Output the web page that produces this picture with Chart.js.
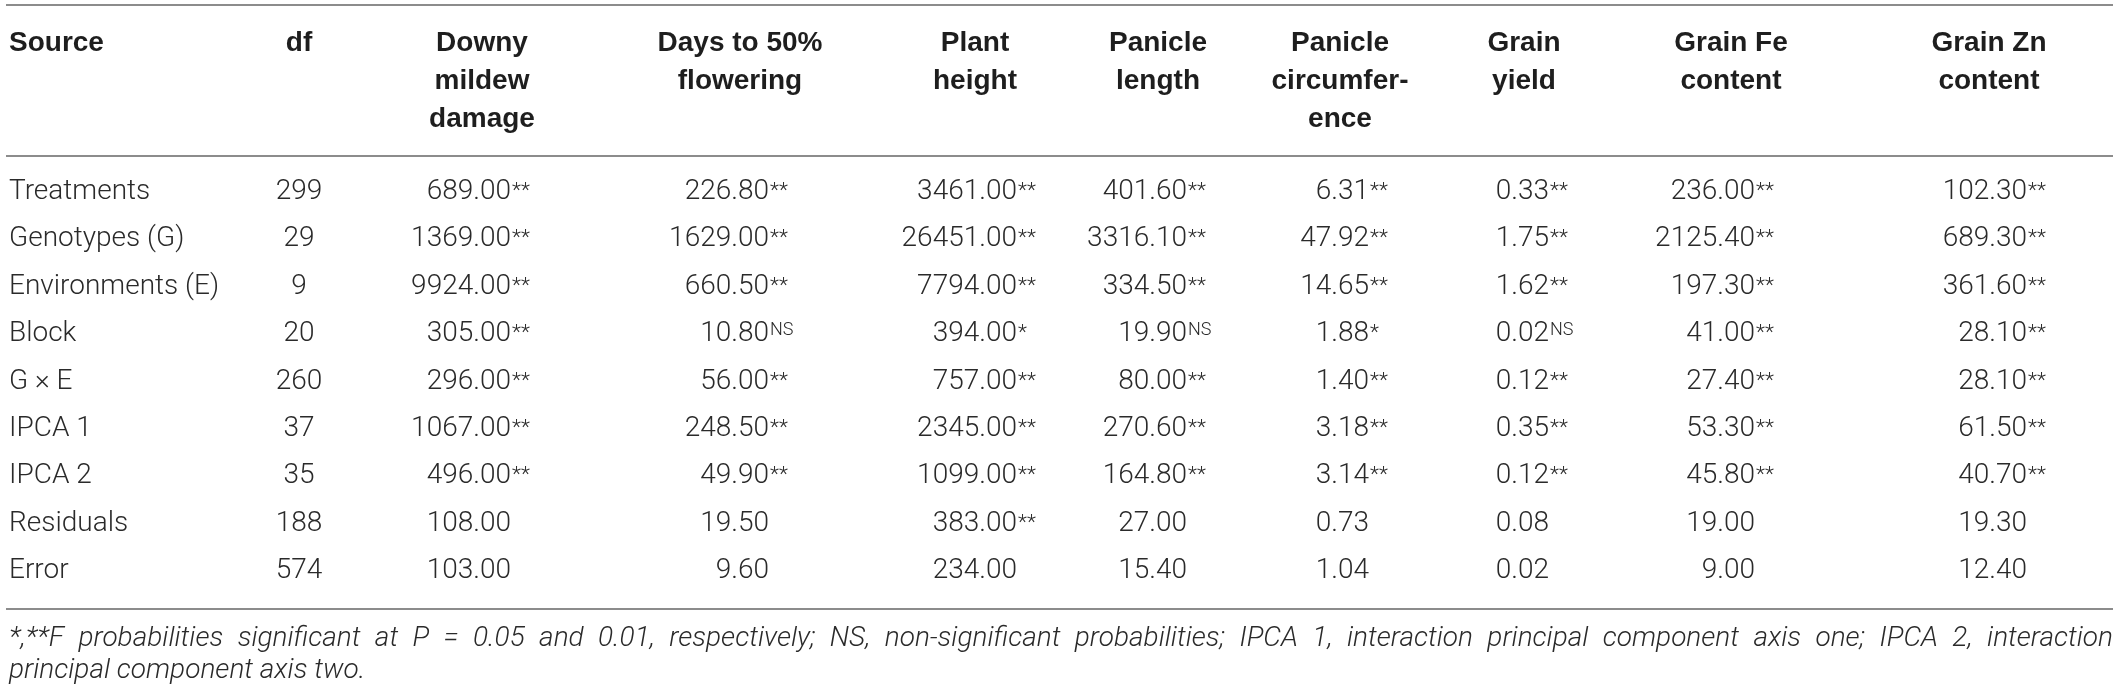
<!DOCTYPE html>
<html>
<head>
<meta charset="utf-8">
<script src="https://cdn.jsdelivr.net/npm/chart.js@4.4.1/dist/chart.umd.min.js"></script>
<style>
  html, body { margin: 0; padding: 0; background: #fff; }
  #wrap { width: 2119px; height: 691px; }
</style>
</head>
<body>
<div id="wrap"><canvas id="anova" width="2119" height="691"></canvas></div>
<script>
// rows of the table
const sources = [
  "Treatments",
  "Genotypes (G)",
  "Environments (E)",
  "Block",
  "G \u00d7 E",
  "IPCA 1",
  "IPCA 2",
  "Residuals",
  "Error",
]

const headers = [
  ["Source"],
  ["df"],
  ["Downy", "mildew", "damage"],
  ["Days to 50%", "flowering"],
  ["Plant", "height"],
  ["Panicle", "length"],
  ["Panicle", "circumfer-", "ence"],
  ["Grain", "yield"],
  ["Grain Fe", "content"],
  ["Grain Zn", "content"],
]

const dfValues = [299, 29, 9, 20, 260, 37, 35, 188, 574]

const downyMildew = [689.0, 1369.0, 9924.0, 305.0, 296.0, 1067.0, 496.0, 108.0, 103.0]
const downyMildewSig = ["**", "**", "**", "**", "**", "**", "**", "", ""]

const daysFlowering = [226.8, 1629.0, 660.5, 10.8, 56.0, 248.5, 49.9, 19.5, 9.6]
const daysFloweringSig = ["**", "**", "**", "NS", "**", "**", "**", "", ""]

const plantHeight = [3461.0, 26451.0, 7794.0, 394.0, 757.0, 2345.0, 1099.0, 383.0, 234.0]
const plantHeightSig = ["**", "**", "**", "*", "**", "**", "**", "**", ""]

const panicleLength = [401.6, 3316.1, 334.5, 19.9, 80.0, 270.6, 164.8, 27.0, 15.4]
const panicleLengthSig = ["**", "**", "**", "NS", "**", "**", "**", "", ""]

const panicleCirc = [6.31, 47.92, 14.65, 1.88, 1.4, 3.18, 3.14, 0.73, 1.04]
const panicleCircSig = ["**", "**", "**", "*", "**", "**", "**", "", ""]

const grainYield = [0.33, 1.75, 1.62, 0.02, 0.12, 0.35, 0.12, 0.08, 0.02]
const grainYieldSig = ["**", "**", "**", "NS", "**", "**", "**", "", ""]

const grainFe = [236.0, 2125.4, 197.3, 41.0, 27.4, 53.3, 45.8, 19.0, 9.0]
const grainFeSig = ["**", "**", "**", "**", "**", "**", "**", "", ""]

const grainZn = [102.3, 689.3, 361.6, 28.1, 28.1, 61.5, 40.7, 19.3, 12.4]
const grainZnSig = ["**", "**", "**", "**", "**", "**", "**", "", ""]

const footnote = [
  "*,**F probabilities significant at P = 0.05 and 0.01, respectively; NS, non-significant probabilities; IPCA 1, interaction principal component axis one; IPCA 2, interaction",
  "principal component axis two.",
]

// layout (x scale units) for each column: header anchor and value anchor
const headAnchor = [9, 299, 482, 740, 975, 1158, 1340, 1524, 1731, 1989]
const valueAnchor = [9, 299, 511, 769, 1017, 1187, 1369, 1549, 1755, 2027]

const bodyFont = "300 28px Roboto"
const headFont = "bold 28px 'Liberation Sans'"
const starFont = "300 21px Roboto"
const nsFont = "300 18px Roboto"
const noteFont = "italic 300 28px Roboto"
const textColor = "#2a2a2a"
const ruleColor = "#8c8c8c"

function column(j, texts, sig, align) {
  return {
    label: headers[j].join(" "),
    data: sources.map((s) => ({ x: valueAnchor[j], y: s })),
    pointRadius: 0,
    cellText: texts,
    cellSig: sig,
    cellAlign: align,
  }
}

const fmt = (arr) => arr.map((v) => v.toFixed(2))

function drawJustified(ctx, text, x, y, width) {
  let words = text.split(" ")
  let total = words.reduce((s, w) => s + ctx.measureText(w).width, 0)
  let gap = (width - total) / (words.length - 1)
  if (gap < ctx.measureText(" ").width * 0.6) {
    ctx.fillText(text, x, y, width)
    return
  }
  let cx = x
  words.forEach((w) => {
    ctx.fillText(w, cx, y)
    cx += ctx.measureText(w).width + gap
  })
}

const tablePlugin = {
  id: "tableText",
  afterDatasetsDraw(chart) {
    let { ctx, chartArea, scales } = chart
    let left = scales.x.getPixelForValue(6)
    let right = scales.x.getPixelForValue(2113)
    ctx.save()

    // rules
    ctx.strokeStyle = ruleColor
    ctx.lineWidth = 2
    ;[chartArea.top - 163, chartArea.top - 12, chartArea.bottom + 14].forEach((y) => {
      ctx.beginPath()
      ctx.moveTo(left, y)
      ctx.lineTo(right, y)
      ctx.stroke()
    })

    // header
    ctx.fillStyle = "#1e1e1e"
    ctx.font = headFont
    ctx.textBaseline = "middle"
    headers.forEach((lines, j) => {
      let x = scales.x.getPixelForValue(headAnchor[j])
      ctx.textAlign = j === 0 ? "left" : "center"
      lines.forEach((ln, k) => {
        ctx.fillText(ln, x, chartArea.top - 125 + k * 38)
      })
    })

    // cells
    ctx.fillStyle = textColor
    chart.data.datasets.forEach((ds, i) => {
      let meta = chart.getDatasetMeta(i)
      meta.data.forEach((pt, r) => {
        ctx.font = bodyFont
        ctx.textAlign = ds.cellAlign
        ctx.textBaseline = "middle"
        ctx.fillText(ds.cellText[r], pt.x, pt.y)
        let sig = ds.cellSig ? ds.cellSig[r] : ""
        if (sig) {
          ctx.textAlign = "left"
          ctx.textBaseline = "alphabetic"
          if (sig === "NS") {
            ctx.font = nsFont
            ctx.fillText(sig, pt.x + 1, pt.y + 1)
          } else {
            ctx.font = starFont
            ctx.fillText(sig, pt.x + 1, pt.y + 5)
          }
        }
      })
    })

    // footnote
    ctx.font = noteFont
    ctx.textAlign = "left"
    ctx.textBaseline = "middle"
    let x0 = scales.x.getPixelForValue(9)
    drawJustified(ctx, footnote[0], x0, chartArea.bottom + 44, right - x0)
    ctx.fillText(footnote[1], x0, chartArea.bottom + 76)

    ctx.restore()
  },
}

let anovaChart = new Chart(document.getElementById("anova").getContext("2d"), {
  type: "scatter",
  data: {
    datasets: [
      column(0, sources, null, "left"),
      column(1, dfValues.map(String), null, "center"),
      column(2, fmt(downyMildew), downyMildewSig, "right"),
      column(3, fmt(daysFlowering), daysFloweringSig, "right"),
      column(4, fmt(plantHeight), plantHeightSig, "right"),
      column(5, fmt(panicleLength), panicleLengthSig, "right"),
      column(6, fmt(panicleCirc), panicleCircSig, "right"),
      column(7, fmt(grainYield), grainYieldSig, "right"),
      column(8, fmt(grainFe), grainFeSig, "right"),
      column(9, fmt(grainZn), grainZnSig, "right"),
    ],
  },
  options: {
    responsive: false,
    animation: false,
    devicePixelRatio: 1,
    events: [],
    layout: {
      padding: { left: 0, right: 0, top: 168, bottom: 96 },
    },
    plugins: {
      legend: { display: false },
      tooltip: { enabled: false },
    },
    scales: {
      x: { type: "linear", min: 0, max: 2119, display: false },
      y: { type: "category", labels: sources, offset: true, display: false },
    },
  },
  plugins: [tablePlugin],
})
</script>
</body>
</html>
